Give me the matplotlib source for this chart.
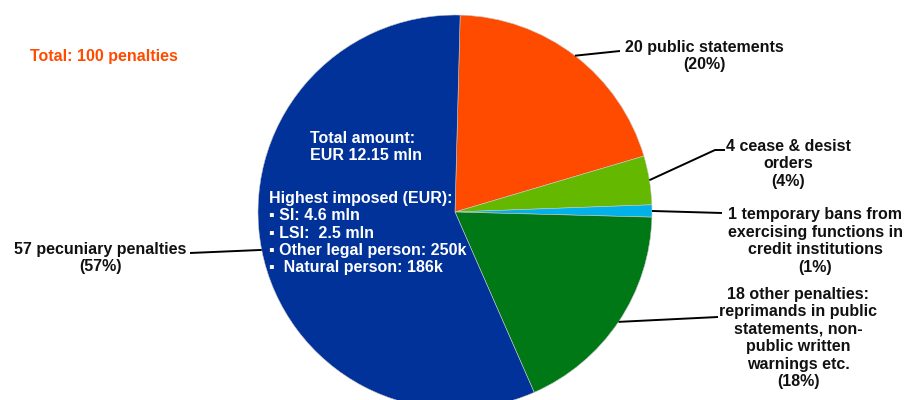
import numpy as np
import matplotlib
matplotlib.use("Agg")
import matplotlib.pyplot as plt

plt.rcParams["font.family"] = ["Liberation Sans", "DejaVu Sans"]

# penalty counts, clockwise from the top
categories = [
    "20 public statements\n(20%)",
    "4 cease & desist\norders\n(4%)",
    "1 temporary bans from\nexercising functions in\ncredit institutions\n(1%)",
    "18 other penalties:\nreprimands in public\nstatements, non-\npublic written\nwarnings etc.\n(18%)",
    "57 pecuniary penalties\n(57%)",
]
counts = [20, 4, 1, 18, 57]
colors = ["#FF4B00", "#65B800", "#00B1EA", "#007816", "#003299"]

total_text = "Total: 100 penalties"
inner_top = "Total amount:\nEUR 12.15 mln"
inner_bottom = ("Highest imposed (EUR):\n\u25aa SI: 4.6 mln\n\u25aa LSI:  2.5 mln\n"
                "\u25aa Other legal person: 250k\n\u25aa  Natural person: 186k")

# label layout (pixel coords, y measured down from the top)
label_pos = [(704, 56), (788, 164), (815, 241), (798, 338), (100, 258)]
knees = [[(620, 51)], [(715, 150), (725, 150)], [(722, 213)], [(718, 317)], [(190, 253)]]

W, H = 906, 400
fig = plt.figure(figsize=(9.06, 4.0), dpi=100)
ax = fig.add_axes([0, 0, 1, 1])

cx, cy, r = 455, H - 212, 197
wedges, _ = ax.pie(counts, colors=colors, startangle=88.5, counterclock=False,
                   center=(cx, cy), radius=r, frame=True,
                   wedgeprops=dict(linewidth=0.4, edgecolor="#c8c8c8"))
ax.set_xlim(0, W)
ax.set_ylim(0, H)
ax.set_aspect("equal")
ax.axis("off")

fs = 11.5
for w, lab, (tx, ty), kn in zip(wedges, categories, label_pos, knees):
    mid = np.deg2rad((w.theta1 + w.theta2) / 2)
    ex, ey = cx + r * np.cos(mid), cy + r * np.sin(mid)
    xs = [ex] + [k[0] for k in kn]
    ys = [ey] + [H - k[1] for k in kn]
    ax.plot(xs, ys, color="black", lw=1.4, solid_capstyle="butt")
    ax.text(tx, H - ty, lab, ha="center", va="center", fontsize=fs,
            fontweight="bold", linespacing=1.2, color="#111111")

ax.text(30, H - 57, total_text, ha="left", va="center", fontsize=fs,
        fontweight="bold", color="#FF4B00")
ax.text(310, H - 147, inner_top, ha="left", va="center", fontsize=fs,
        fontweight="bold", color="white", linespacing=1.2)
ax.text(269, H - 233, inner_bottom, ha="left", va="center", fontsize=fs,
        fontweight="bold", color="white", linespacing=1.2)

fig.savefig("out.png", dpi=100)
